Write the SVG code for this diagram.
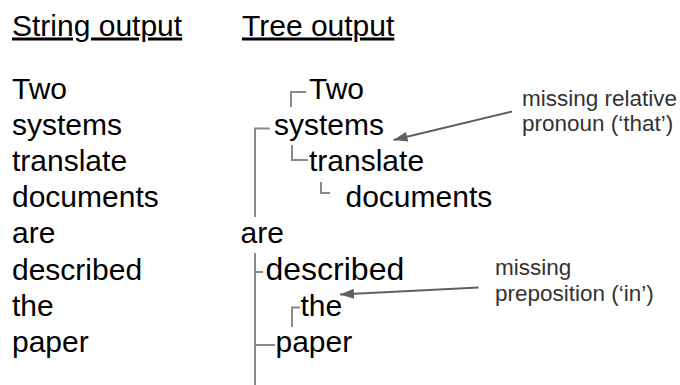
<svg xmlns="http://www.w3.org/2000/svg" width="680" height="385" viewBox="0 0 680 385">
<style>
text{font-family:"Liberation Sans",Arial,sans-serif}
.w{font-size:30px;fill:#000}
.h{font-size:30px;fill:#000;text-decoration:underline}
.n{font-size:22.5px;fill:#333}
.t{fill:none;stroke:#8a8a8a;stroke-width:2}
.a{fill:none;stroke:#5f5f5f;stroke-width:2}
</style>
<defs>
<marker id="ah" markerUnits="userSpaceOnUse" markerWidth="16" markerHeight="10" refX="14" refY="5" orient="auto">
<path d="M0,0 L14,5 L0,10 z" fill="#5f5f5f"/>
</marker>
</defs>
<rect width="680" height="385" fill="#fff"/>
<g id="headings">
<text class="h" x="12" y="35.5">String output</text>
<text class="h" x="242" y="35.5">Tree output</text>
</g>
<g id="string-output">
<text class="w" x="12" y="98.5">Two</text>
<text class="w" x="12" y="134.7">systems</text>
<text class="w" x="12" y="170.9">translate</text>
<text class="w" x="12" y="207.1">documents</text>
<text class="w" x="12" y="243.3">are</text>
<text class="w" x="12" y="279.5">described</text>
<text class="w" x="12" y="315.7">the</text>
<text class="w" x="12" y="351.9">paper</text>
</g>
<g id="node-two"><text class="w" x="309" y="98.5">Two</text></g>
<g id="node-systems"><text class="w" x="274" y="134.7">systems</text></g>
<g id="node-translate"><text class="w" x="309" y="170.9">translate</text></g>
<g id="node-documents"><text class="w" x="345.5" y="207.1">documents</text></g>
<g id="node-are"><text class="w" x="240.5" y="243.3">are</text></g>
<g id="node-described"><text class="w" x="265.5" y="279.5" style="font-size:32px">described</text></g>
<g id="node-the"><text class="w" x="300.5" y="315.7">the</text></g>
<g id="node-paper"><text class="w" x="275.5" y="351.9">paper</text></g>
<g id="note-relative">
<text class="n" x="522" y="106">missing relative</text>
<text class="n" x="522" y="131">pronoun (‘that’)</text>
</g>
<g id="note-preposition">
<text class="n" x="495" y="275">missing</text>
<text class="n" x="495" y="301">preposition (‘in’)</text>
</g>
<g id="connectors">
<path class="t" d="M291,107 V92 H306"/>
<path class="t" d="M255,217 V128.5 H270"/>
<path class="t" d="M292,145 V160 H308"/>
<path class="t" d="M321,182 V193 H330"/>
<path class="t" d="M255,253 V385"/>
<path class="t" d="M255,272 H263"/>
<path class="t" d="M292,327 V307.5 H300"/>
<path class="t" d="M255,345 H275"/>
<line class="a" x1="512" y1="111.5" x2="393.5" y2="140" marker-end="url(#ah)"/>
<line class="a" x1="478.5" y1="287.5" x2="340" y2="294.5" marker-end="url(#ah)"/>
</g>
</svg>
